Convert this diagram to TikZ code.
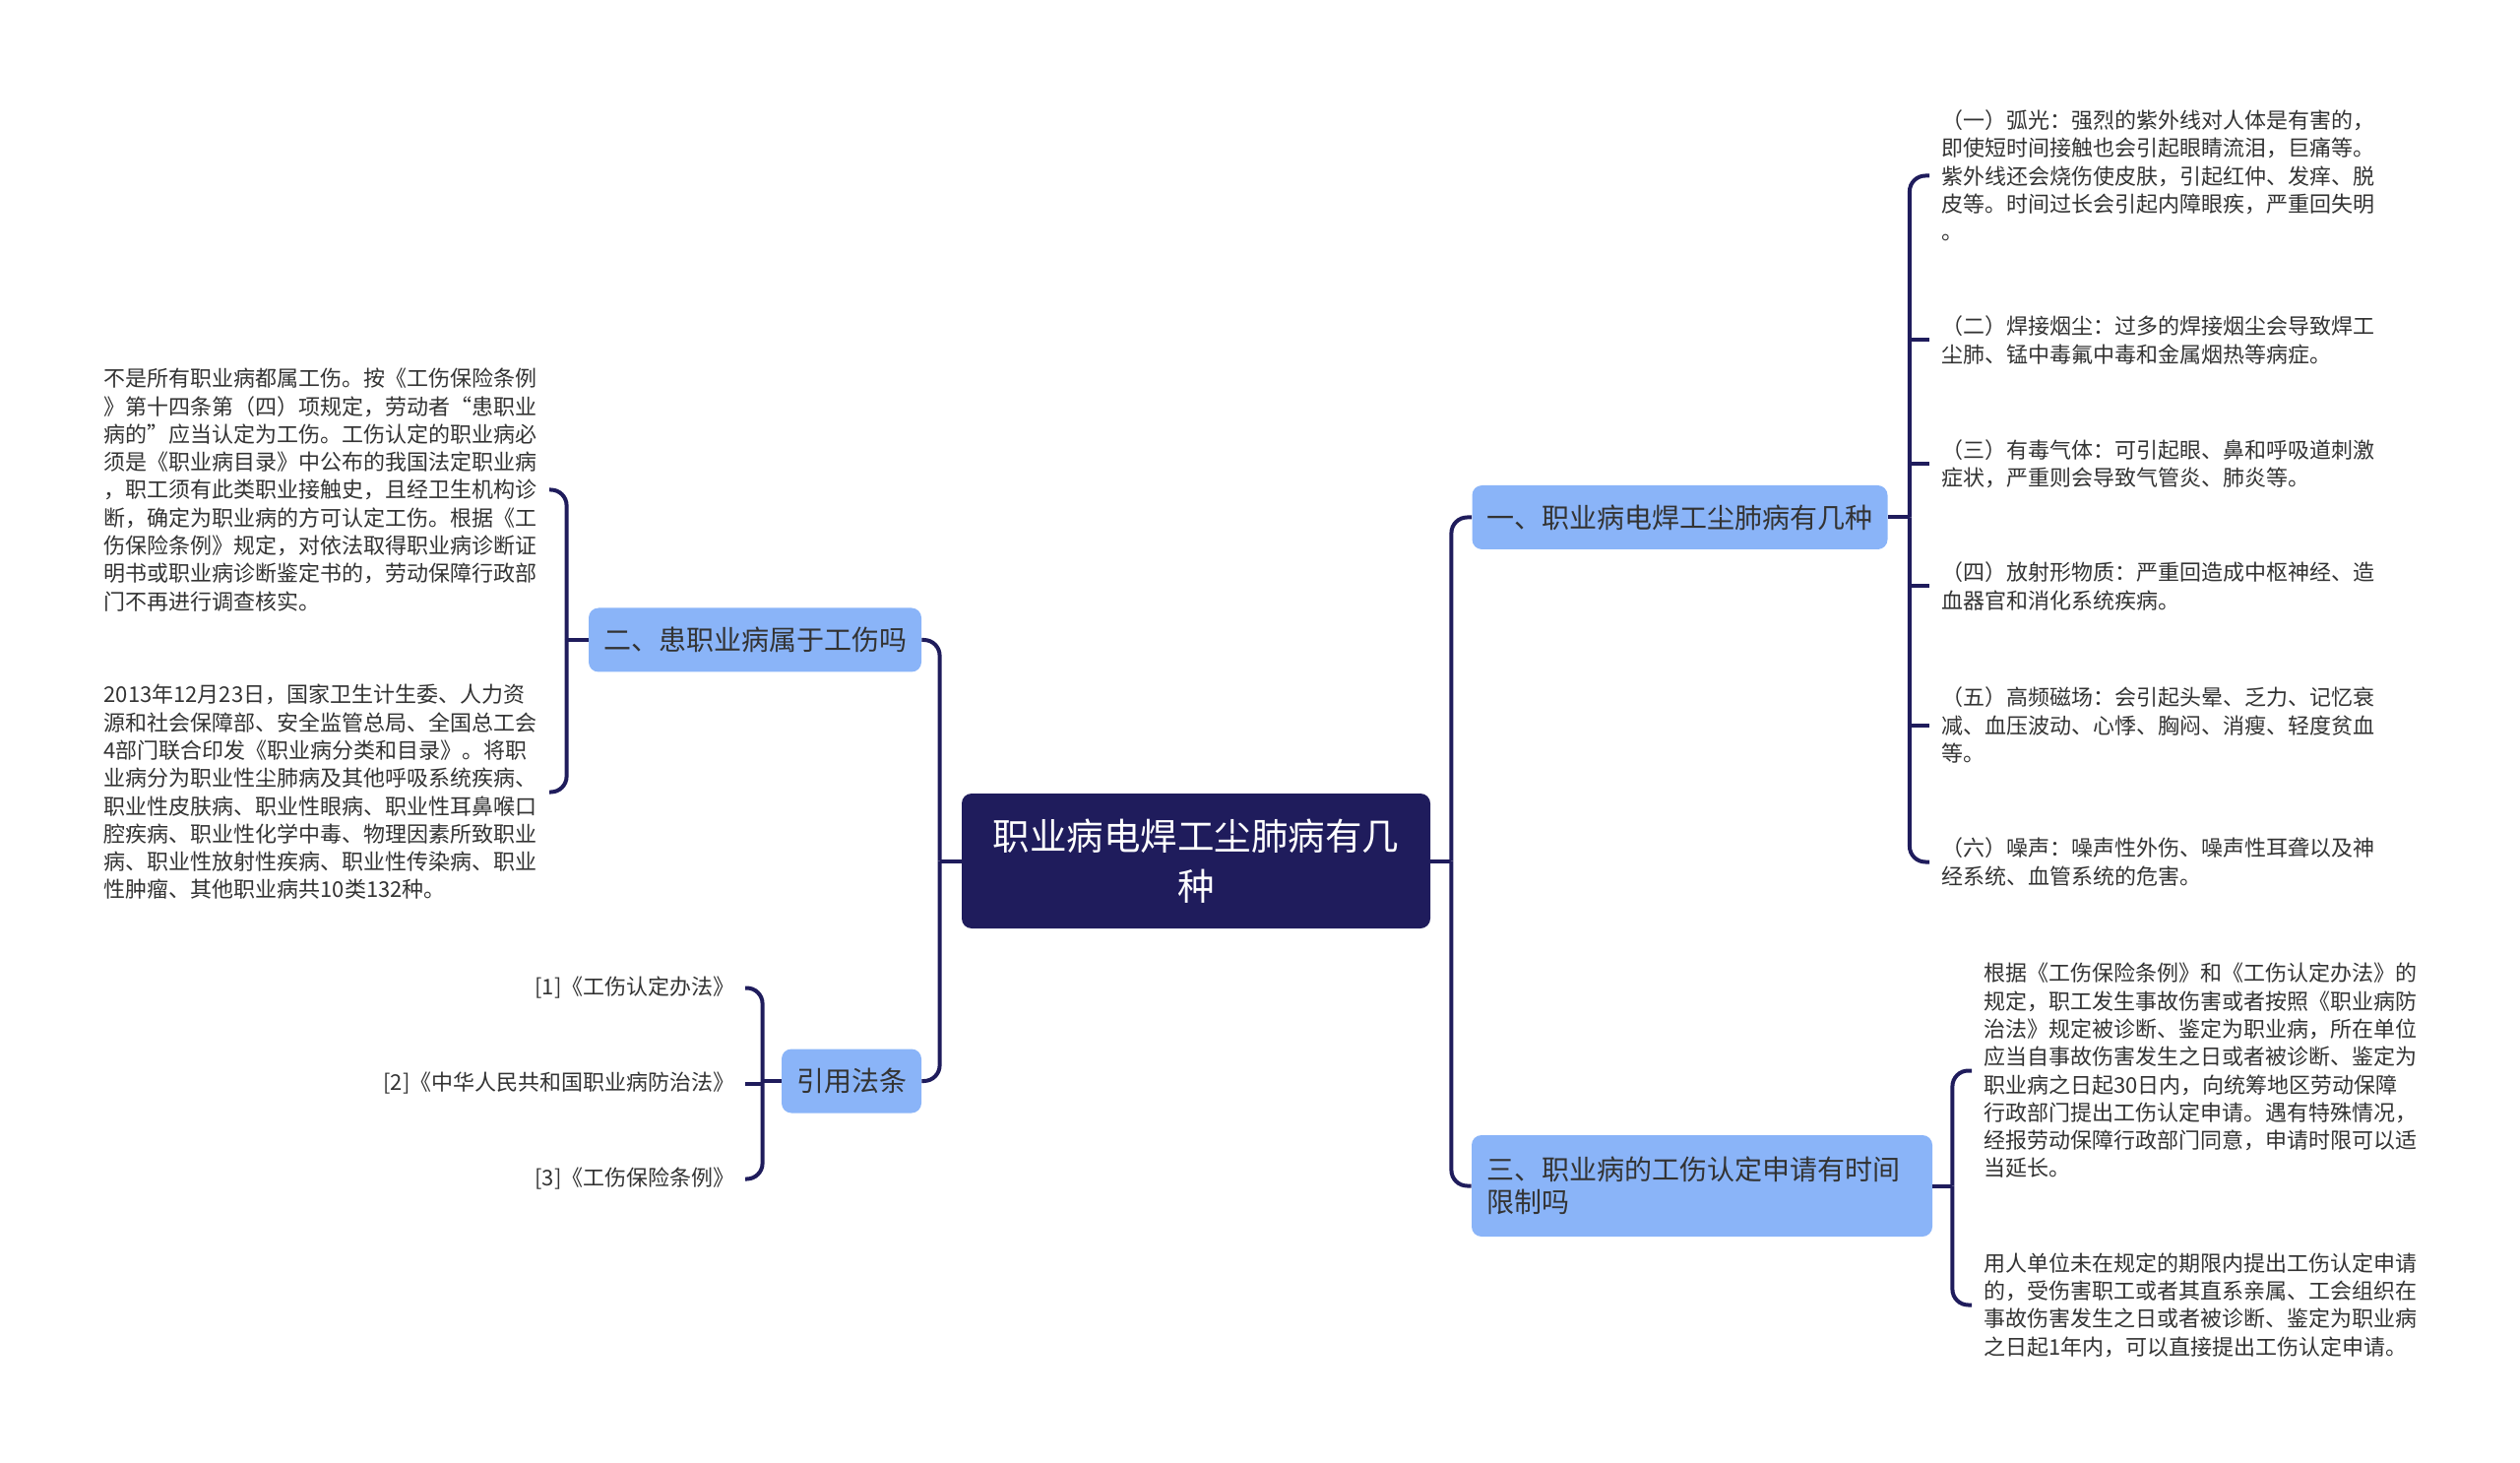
\documentclass[tikz,border=0pt]{standalone}
\usepackage{fontspec}
\setmainfont{Noto Sans CJK SC}
\usepackage{xcolor}
\definecolor{navy}{HTML}{1F1C5C}
\definecolor{topicblue}{HTML}{8AB4F8}
\definecolor{ink}{HTML}{333333}

\begin{document}
\begin{tikzpicture}[x=0.5pt,y=-0.5pt,
  rootbox/.style={fill=navy,text=white,rounded corners=5pt,align=center,minimum width=238pt,minimum height=68.5pt,font=\fontsize{18.75}{25.8}\selectfont},
  topicbox/.style={fill=topicblue,text=ink,rounded corners=5pt,inner xsep=7.5pt,minimum height=32.5pt,font=\fontsize{14}{16.5}\selectfont},
  leafbox/.style={text=ink,inner xsep=6pt,inner ysep=0pt,align=left,yshift=-1.25pt,font=\fontsize{11}{14.15}\selectfont},
  link/.style={draw=navy,line width=2pt,rounded corners=8pt}]
\useasboundingbox (0,0) rectangle (2560,1486);

\node[rootbox] (root) at (1215,874.5) {职业病电焊工尘肺病有几\\种};

\node[topicbox] (t1) at (1706.5,525.5) {一、职业病电焊工尘肺病有几种};
\node[topicbox] (t2) at (767,650) {二、患职业病属于工伤吗};
\node[topicbox,align=left,text width=219pt,minimum height=51.5pt] (t3) at (1729,1204.5) {三、职业病的工伤认定申请有时间\\限制吗};
\node[topicbox] (t4) at (865,1098) {引用法条};

% right: kinds of hazards
\node[leafbox,anchor=west] (r1) at (1960,176) {（一）弧光：强烈的紫外线对人体是有害的，\\即使短时间接触也会引起眼睛流泪，巨痛等。\\紫外线还会烧伤使皮肤，引起红仲、发痒、脱\\皮等。时间过长会引起内障眼疾，严重回失明\\。};
\node[leafbox,anchor=west] (r2) at (1960,343) {（二）焊接烟尘：过多的焊接烟尘会导致焊工\\尘肺、锰中毒氟中毒和金属烟热等病症。};
\node[leafbox,anchor=west] (r3) at (1960,469) {（三）有毒气体：可引起眼、鼻和呼吸道刺激\\症状，严重则会导致气管炎、肺炎等。};
\node[leafbox,anchor=west] (r4) at (1960,593) {（四）放射形物质：严重回造成中枢神经、造\\血器官和消化系统疾病。};
\node[leafbox,anchor=west] (r5) at (1960,734) {（五）高频磁场：会引起头晕、乏力、记忆衰\\减、血压波动、心悸、胸闷、消瘦、轻度贫血\\等。};
\node[leafbox,anchor=west] (r6) at (1960,873) {（六）噪声：噪声性外伤、噪声性耳聋以及神\\经系统、血管系统的危害。};

% right: time limits
\node[leafbox,anchor=west] (r7) at (2003,1085) {根据《工伤保险条例》和《工伤认定办法》的\\规定，职工发生事故伤害或者按照《职业病防\\治法》规定被诊断、鉴定为职业病，所在单位\\应当自事故伤害发生之日或者被诊断、鉴定为\\职业病之日起30日内，向统筹地区劳动保障\\行政部门提出工伤认定申请。遇有特殊情况，\\经报劳动保障行政部门同意，申请时限可以适\\当延长。};
\node[leafbox,anchor=west] (r8) at (2003,1323) {用人单位未在规定的期限内提出工伤认定申请\\的，受伤害职工或者其直系亲属、工会组织在\\事故伤害发生之日或者被诊断、鉴定为职业病\\之日起1年内，可以直接提出工伤认定申请。};

% left
\node[leafbox,anchor=east] (l1) at (558,495) {不是所有职业病都属工伤。按《工伤保险条例\\》第十四条第（四）项规定，劳动者“患职业\\病的”应当认定为工伤。工伤认定的职业病必\\须是《职业病目录》中公布的我国法定职业病\\，职工须有此类职业接触史，且经卫生机构诊\\断，确定为职业病的方可认定工伤。根据《工\\伤保险条例》规定，对依法取得职业病诊断证\\明书或职业病诊断鉴定书的，劳动保障行政部\\门不再进行调查核实。};
\node[leafbox,anchor=east] (l2) at (558,802) {2013年12月23日，国家卫生计生委、人力资\\源和社会保障部、安全监管总局、全国总工会\\4部门联合印发《职业病分类和目录》。将职\\业病分为职业性尘肺病及其他呼吸系统疾病、\\职业性皮肤病、职业性眼病、职业性耳鼻喉口\\腔疾病、职业性化学中毒、物理因素所致职业\\病、职业性放射性疾病、职业性传染病、职业\\性肿瘤、其他职业病共10类132种。};

\node[leafbox,anchor=east,inner xsep=5pt] (f1) at (757,1001) {[1]《工伤认定办法》};
\node[leafbox,anchor=east,inner xsep=5pt] (f2) at (757,1098) {[2]《中华人民共和国职业病防治法》};
\node[leafbox,anchor=east,inner xsep=5pt] (f3) at (757,1195) {[3]《工伤保险条例》};

% connectors
\path (root.east) ++(21,0) coordinate (jr);
\path (root.west) ++(-22,0) coordinate (jl);
\draw[link] (root.east) -- (jr);
\draw[link] (jr) |- (t1.west);
\draw[link] (jr) |- (t3.west);
\draw[link] (root.west) -- (jl);
\draw[link] (jl) |- (t2.east);
\draw[link] (jl) |- (t4.east);

\path (t1.east) ++(22,0) coordinate (j1);
\draw[link] (t1.east) -- (j1);
\draw[link] (j1) |- (r1.west);
\draw[link] (j1) |- (r6.west);
\foreach \n in {r2,r3,r4,r5}
  \draw[link] (j1 |- \n.west) -- (\n.west);

\path (t3.east) ++(20,0) coordinate (j3);
\draw[link] (t3.east) -- (j3);
\draw[link] (j3) |- (r7.west);
\draw[link] (j3) |- (r8.west);

\path (t2.west) ++(-22,0) coordinate (j2);
\draw[link] (t2.west) -- (j2);
\draw[link] (j2) |- (l1.east);
\draw[link] (j2) |- (l2.east);

\path (t4.west) ++(-19,0) coordinate (j4);
\draw[link] (t4.west) -- (j4);
\draw[link] (j4) |- (f1.east);
\draw[link] (j4) |- (f3.east);
\draw[link] (j4 |- f2.east) -- (f2.east);
\end{tikzpicture}
\end{document}
